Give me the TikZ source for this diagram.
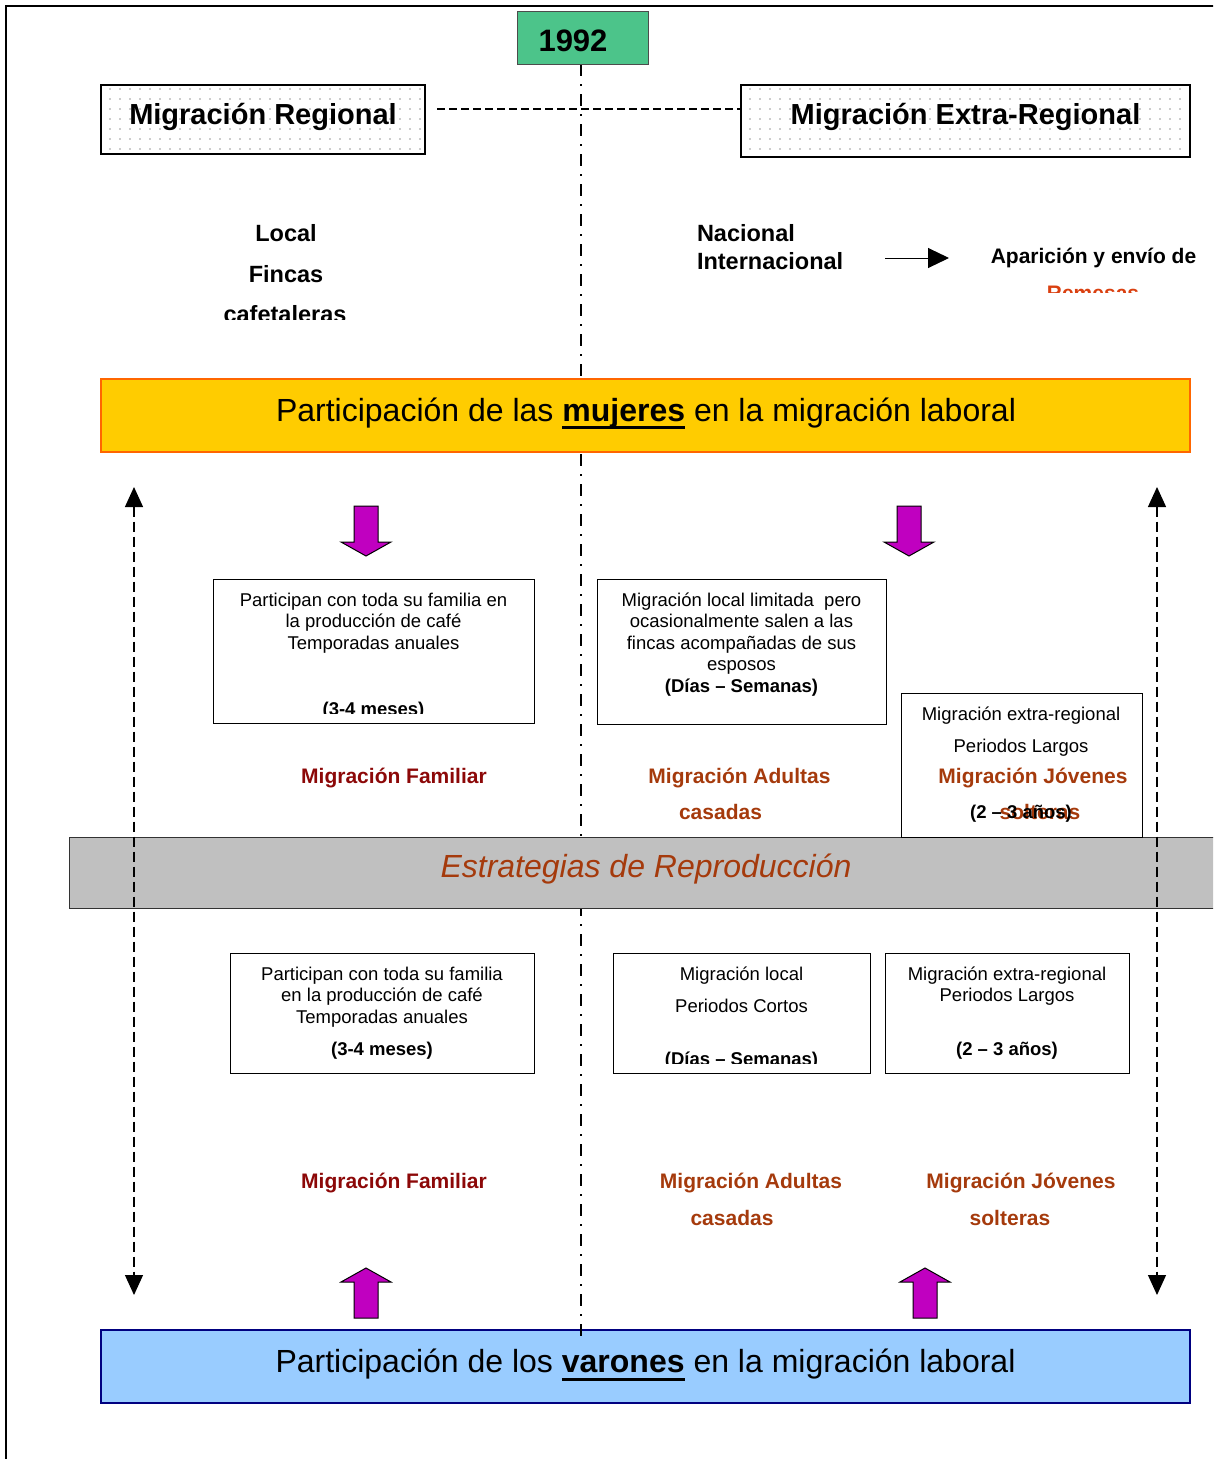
\documentclass[tikz,border=0pt]{standalone}
\usepackage{fontspec}
\setmainfont{Liberation Sans}
\usetikzlibrary{arrows.meta}
\usetikzlibrary{patterns.meta}
\definecolor{yearColor}{RGB}{76,196,138}
\definecolor{womColor}{RGB}{255,204,0}
\definecolor{womLine}{RGB}{255,102,0}
\definecolor{menColor}{RGB}{153,204,255}
\definecolor{menLine}{RGB}{0,0,128}
\definecolor{stratColor}{RGB}{192,192,192}
\definecolor{blockColor}{RGB}{192,0,192}
\definecolor{famColor}{RGB}{140,8,8}
\definecolor{adColor}{RGB}{165,58,12}
\definecolor{remColor}{RGB}{218,64,16}
\newcommand{\heavyUnder}[1]{\setbox0=\hbox{#1}\rlap{\rule[-8pt]{\wd0}{3pt}}\box0\relax}

\tikzset{
  txt/.style={anchor=base, inner sep=0pt, outer sep=0pt},
  boxTxt/.style={txt, font=\fontsize{18.5}{21}\selectfont},
  boxBold/.style={txt, font=\fontsize{18.5}{21}\selectfont\bfseries},
  labTxt/.style={txt, font=\fontsize{21}{25}\selectfont\bfseries},
  midTxt/.style={txt, font=\fontsize{23.5}{28}\selectfont\bfseries},
  bandTxt/.style={txt, font=\fontsize{32}{38}\selectfont},
  infoBox/.style={draw, line width=1pt, inner sep=0pt},
  regBox/.style={draw, line width=2.5pt, inner sep=0pt,
    pattern={Dots[radius=0.9pt,distance=10pt]}, pattern color=black!40},
  blockArrow/.style={draw=black, line width=1pt, fill=blockColor},
  sideArrow/.style={line width=1.2pt, dash pattern=on 10pt off 5pt,
    {Triangle[length=20pt,width=18pt]}-{Triangle[length=20pt,width=18pt]}}
}

\begin{document}
\begin{tikzpicture}[x=1pt,y=-1pt]
    \clip (0,0) rectangle (1213,1459);

    % page frame
    \draw[line width=2.5pt] (6,1470) -- (6,6) -- (1225,6);

    % men's box first, the time line runs into it
    \node[draw=menLine, line width=2.5pt, fill=menColor, inner sep=0pt,
      minimum width=1089, minimum height=73] (men) at (645.5,1366.5) {};

    \coordinate (lineEnd) at (581,1340);
    \draw[line width=1.5pt, dash pattern=on 12pt off 8pt on 2pt off 8pt] (581,64) -- (lineEnd);

    \node[draw=womLine, line width=2pt, fill=womColor, inner sep=0pt,
      minimum width=1089, minimum height=73] (wom) at (645.5,415.5) {};
    \node[draw=black!80, line width=1pt, fill=stratColor, inner sep=0pt,
      minimum width=1160, minimum height=71] (strat) at (649,872.5) {};
    \node[draw=black!70, line width=1pt, fill=yearColor, inner sep=0pt,
      minimum width=131, minimum height=53] (yr) at (582.5,37.5) {};

    \node[txt, font=\fontsize{31}{36}\selectfont\bfseries] (yrTxt) at (573,51) {1992};

    % regional / extra-regional
    \node[regBox, minimum width=324, minimum height=69] (reg) at (263,119.5) {};
    \node[regBox, minimum width=449, minimum height=72] (xreg) at (965.5,121) {};
    \node[txt, font=\fontsize{29}{34}\selectfont\bfseries] (regTxt) at (263,124.5) {Migración Regional};
    \node[txt, font=\fontsize{29}{34}\selectfont\bfseries] (xregTxt) at (965.5,124.5) {Migración Extra-Regional};
    \coordinate (dashStart) at (437,109);
    \draw[line width=1.2pt, dash pattern=on 8pt off 4pt] (dashStart) -- (dashStart -| xreg.west);

    \node[midTxt] (loc) at (286,241.5) {Local};
    \node[midTxt] (fin) at (286,282) {Fincas};
    \begin{scope}
      \clip (180,290) rectangle (400,319);
      \node[midTxt] (caf) at (285,322.5) {cafetaleras};
    \end{scope}
    \node[midTxt, anchor=base west] (nac) at (697,241) {Nacional};
    \node[midTxt, anchor=base west] (intl) at (697,269) {Internacional};
    \coordinate (remA) at (885,258);
    \coordinate (remB) at (949,258);
    \draw[line width=1pt, -{Triangle[length=21pt,width=20pt]}] (remA) -- (remB);
    \node[labTxt] (apar) at (1093.5,263.5) {Aparición y envío de};
    \begin{scope}
      \clip (1000,270) rectangle (1200,292);
      \node[labTxt, text=remColor] (rem) at (1093,300.5) {Remesas};
    \end{scope}

    \node[bandTxt] (womTxt) at (646,421) {Participación de las \heavyUnder{\textbf{mujeres}} en la migración laboral};
    \node[bandTxt, text=adColor, font=\fontsize{32}{38}\selectfont\itshape] (stratTxt) at (646,877) {Estrategias de Reproducción};
    \node[bandTxt] (menTxt) at (645.5,1372.5) {Participación de los \heavyUnder{\textbf{varones}} en la migración laboral};

    % women
    \node[infoBox, minimum width=321, minimum height=144] (wFam) at (373.5,651) {};
    \node[boxTxt] (wFam1) at (373.5,606.5) {Participan con toda su familia en};
    \node[boxTxt] (wFam2) at (373.5,627.5) {la producción de café};
    \node[boxTxt] (wFam3) at (373.5,649.5) {Temporadas anuales};
    \begin{scope}
      \clip (220,690) rectangle (520,713);
      \node[boxBold] (wFam4) at (373.5,715.5) {(3-4 meses)};
    \end{scope}

    \node[infoBox, minimum width=289, minimum height=145] (wAd) at (741.5,651.5) {};
    \node[boxTxt] (wAd1) at (741.5,606.5) {Migración local limitada \ pero};
    \node[boxTxt] (wAd2) at (741.5,627.5) {ocasionalmente salen a las};
    \node[boxTxt] (wAd3) at (741.5,649.5) {fincas acompañadas de sus};
    \node[boxTxt] (wAd4) at (741.5,670.5) {esposos};
    \node[boxBold] (wAd5) at (741.5,692.5) {(Días – Semanas)};

    \node[labTxt, text=famColor] (wFamLab) at (394,783.5) {Migración Familiar};
    \node[labTxt, text=adColor] (wAdLab1) at (739.5,783.5) {Migración Adultas};
    \node[labTxt, text=adColor] (wAdLab2) at (720.5,819.5) {casadas};
    \node[labTxt, text=adColor] (wJovLab1) at (1033,783.5) {Migración Jóvenes};
    \node[labTxt, text=adColor] (wJovLab2) at (1040,819.5) {solteras};

    \node[infoBox, minimum width=241, minimum height=144] (wJov) at (1021.5,765) {};
    \node[boxTxt] (wJov1) at (1021,720.5) {Migración extra-regional};
    \node[boxTxt] (wJov2) at (1021,752.5) {Periodos Largos};
    \node[boxBold] (wJov3) at (1021,818.5) {(2 – 3 años)};

    % men
    \node[infoBox, minimum width=304, minimum height=120] (mFam) at (382,1013) {};
    \node[boxTxt] (mFam1) at (382,980.5) {Participan con toda su familia};
    \node[boxTxt] (mFam2) at (382,1001.5) {en la producción de café};
    \node[boxTxt] (mFam3) at (382,1023.5) {Temporadas anuales};
    \node[boxBold] (mFam4) at (382,1055.5) {(3-4 meses)};

    \node[infoBox, minimum width=257, minimum height=120] (mAd) at (741.5,1013) {};
    \node[boxTxt] (mAd1) at (741.5,980.5) {Migración local};
    \node[boxTxt] (mAd2) at (741.5,1012.5) {Periodos Cortos};
    \begin{scope}
      \clip (620,1040) rectangle (860,1063);
      \node[boxBold] (mAd3) at (741.5,1065) {(Días – Semanas)};
    \end{scope}

    \node[infoBox, minimum width=244, minimum height=120] (mJov) at (1007,1013) {};
    \node[boxTxt] (mJov1) at (1007,980.5) {Migración extra-regional};
    \node[boxTxt] (mJov2) at (1007,1001.5) {Periodos Largos};
    \node[boxBold] (mJov3) at (1007,1055.5) {(2 – 3 años)};

    \node[labTxt, text=famColor] (mFamLab) at (394,1188.5) {Migración Familiar};
    \node[labTxt, text=adColor] (mAdLab1) at (751,1188.5) {Migración Adultas};
    \node[labTxt, text=adColor] (mAdLab2) at (732,1225.5) {casadas};
    \node[labTxt, text=adColor] (mJovLab1) at (1021,1188.5) {Migración Jóvenes};
    \node[labTxt, text=adColor] (mJovLab2) at (1010,1225.5) {solteras};

    % side arrows
    \coordinate (leftTop) at (134,487);
    \coordinate (leftBot) at (134,1295);
    \coordinate (rightTop) at (1157,487);
    \coordinate (rightBot) at (1157,1295);
    \draw[sideArrow] (leftTop) -- (leftBot);
    \draw[sideArrow] (rightTop) -- (rightBot);

    % block arrows
    \draw[blockArrow] (354,506) -- ++(24,0) -- ++(0,36) -- ++(13,0) -- ++(-25,14) -- ++(-25,-14) -- ++(13,0) -- cycle;
    \draw[blockArrow] (897,506) -- ++(24,0) -- ++(0,36) -- ++(13,0) -- ++(-25,14) -- ++(-25,-14) -- ++(13,0) -- cycle;
    \draw[blockArrow] (354,1318) -- ++(24,0) -- ++(0,-36) -- ++(13,0) -- ++(-25,-14) -- ++(-25,14) -- ++(13,0) -- cycle;
    \draw[blockArrow] (913,1318) -- ++(24,0) -- ++(0,-36) -- ++(13,0) -- ++(-25,-14) -- ++(-25,14) -- ++(13,0) -- cycle;
\end{tikzpicture}
\end{document}
